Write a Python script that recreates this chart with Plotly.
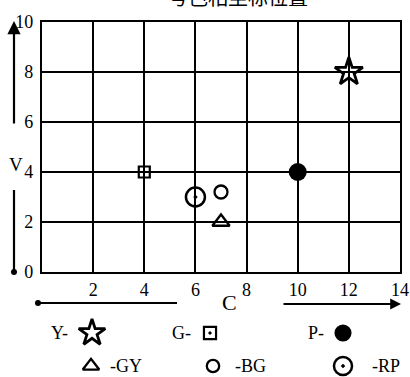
import plotly.graph_objects as go

# ---- data ----
hues = ["Y", "G", "P", "GY", "BG", "RP"]
chroma = [12, 4, 10, 7, 7, 6]
value = [8, 4, 4, 2, 3.2, 3]
x_ticks = [2, 4, 6, 8, 10, 12, 14]
y_ticks = [0, 2, 4, 6, 8, 10]
title_text = "号色相坐标位置"

# ---- styles ----
symbols = {"Y": "star-open", "G": "square-open-dot", "P": "circle",
           "GY": "triangle-up-open", "BG": "circle-open", "RP": "circle-open-dot"}
sizes = {"Y": 21, "G": 11, "P": 18, "GY": 15, "BG": 13, "RP": 19}
widths = {"Y": 2.8, "G": 2.2, "P": 0, "GY": 2.3, "BG": 2.3, "RP": 2.5}

W, H = 410, 377
# plot-area pixel box
X0, X1, Y0, Y1 = 42, 400, 22, 272


def fx(x):  # pixel -> paper x (margins are zero)
    return x / W


def fy(y):  # pixel -> paper y
    return 1 - y / H


SERIF = "Liberation Serif"
fig = go.Figure()


def label(x, y, text, size=18, family=SERIF):
    fig.add_annotation(x=fx(x), y=fy(y), xref="paper", yref="paper", text=text,
                       showarrow=False, xanchor="center", yanchor="middle",
                       font=dict(family=family, size=size, color="black"))


for h, cx, vy in zip(hues, chroma, value):
    fig.add_trace(go.Scatter(
        x=[cx], y=[vy], mode="markers", name=h, showlegend=False,
        marker=dict(symbol=symbols[h], size=sizes[h], color="black",
                    line=dict(color="black", width=widths[h])),
        cliponaxis=False, xaxis="x", yaxis="y", hoverinfo="skip"))

# legend keys (layout positions in pixels on a full-canvas overlay axis pair)
legend_layout = [
    ("Y", 92, 333, "Y-", 60, 333),
    ("G", 210, 333, "G-", 181, 333),
    ("P", 343, 333, "P-", 316, 333),
    ("GY", 91, 366, "-GY", 126, 366),
    ("BG", 213, 366, "-BG", 250, 366),
    ("RP", 343, 366, "-RP", 386, 366),
]
for h, mx, my, txt, tx, ty in legend_layout:
    fig.add_trace(go.Scatter(
        x=[mx], y=[my], mode="markers", showlegend=False, xaxis="x2", yaxis="y2",
        hoverinfo="skip",
        marker=dict(symbol=symbols[h], size=sizes[h] * (0.95 if h != "G" else 1.1),
                    color="black", line=dict(color="black", width=widths[h]))))
    label(tx, ty, txt, 18)

# axis titles
label(16, 164, "V", 19)
label(229, 302, "C", 22)

# title (cut off at top)
label(238, -4, title_text, 20, "Noto Sans CJK SC")

# arrows
fig.add_annotation(x=fx(14), y=fy(21), xref="paper", yref="paper",
                   ax=0, ay=104, axref="pixel", ayref="pixel",
                   text="", showarrow=True, arrowhead=2, arrowsize=1.2,
                   arrowwidth=2.2, arrowcolor="black")
fig.add_annotation(x=fx(401), y=fy(304), xref="paper", yref="paper",
                   ax=-119, ay=0, axref="pixel", ayref="pixel",
                   text="", showarrow=True, arrowhead=2, arrowsize=1.2,
                   arrowwidth=1.8, arrowcolor="black")
fig.add_shape(type="line", xref="paper", yref="paper", x0=fx(14), x1=fx(14),
              y0=fy(190), y1=fy(272), line=dict(color="black", width=2.2))
fig.add_shape(type="line", xref="paper", yref="paper", x0=fx(38), x1=fx(177),
              y0=fy(303), y1=fy(303), line=dict(color="black", width=1.8))
for cxp, cyp in [(14, 272), (38, 303)]:
    fig.add_shape(type="circle", xref="paper", yref="paper",
                  x0=fx(cxp - 3), x1=fx(cxp + 3), y0=fy(cyp + 3), y1=fy(cyp - 3),
                  fillcolor="black", line=dict(color="black", width=0))

fig.update_layout(
    width=W, height=H, margin=dict(l=0, r=0, t=0, b=0, pad=0),
    plot_bgcolor="rgba(0,0,0,0)", paper_bgcolor="white", showlegend=False,
    hovermode=False,
    xaxis=dict(domain=[X0 / W, X1 / W], range=[0, 14], tickvals=x_ticks,
               ticktext=[str(t) for t in x_ticks], automargin=False,
               showgrid=True, gridcolor="black", gridwidth=1.5, zeroline=False,
               showline=True, linecolor="black", linewidth=2, mirror=True,
               ticks="", ticklabelstandoff=0,
               tickfont=dict(family=SERIF, size=18, color="black")),
    yaxis=dict(domain=[1 - Y1 / H, 1 - Y0 / H], range=[0, 10], tickvals=y_ticks,
               ticktext=[str(t) for t in y_ticks], automargin=False,
               showgrid=True, gridcolor="black", gridwidth=1.5, zeroline=False,
               showline=True, linecolor="black", linewidth=2.2, mirror=True,
               ticks="", ticklabelstandoff=3,
               tickfont=dict(family=SERIF, size=18, color="black")),
    xaxis2=dict(domain=[0, 1], range=[0, W], visible=False, anchor="y2"),
    yaxis2=dict(domain=[0, 1], range=[H, 0], visible=False, anchor="x2"),
)

fig.write_html("out.html", config={"displayModeBar": False},
               post_script="document.body.style.margin='0';document.body.style.overflow='hidden';")
